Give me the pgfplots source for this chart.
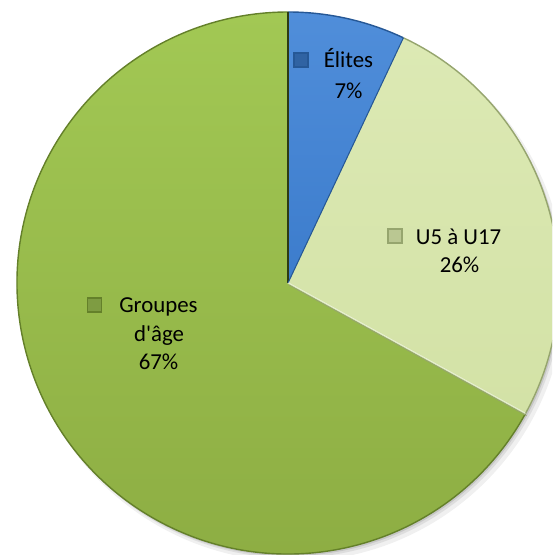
\documentclass[border=0pt]{standalone}
\usepackage{pgfplots}
\pgfplotsset{compat=1.18}
\usepackage{pgfplotstable}
\usepackage{fontspec}
\setmainfont{Carlito}

\definecolor{cBlue}{RGB}{60,124,204}
\definecolor{cBlueL}{RGB}{80,142,218}
\definecolor{cBlueD}{RGB}{38,88,150}
\definecolor{cLight}{RGB}{211,226,166}
\definecolor{cLightL}{RGB}{220,233,180}
\definecolor{cLightD}{RGB}{150,165,110}
\definecolor{cOlive}{RGB}{152,188,78}
\definecolor{cOliveL}{RGB}{162,200,84}
\definecolor{cOliveB}{RGB}{140,172,66}
\definecolor{cOliveD}{RGB}{100,128,42}

\pgfplotstableread{
label value
Elites 7
U5aU17 26
Groupes 67
}\piedata
\pgfplotstablegetelem{0}{value}\of\piedata\let\vA\pgfplotsretval
\pgfplotstablegetelem{1}{value}\of\piedata\let\vB\pgfplotsretval
\pgfplotstablegetelem{2}{value}\of\piedata\let\vC\pgfplotsretval
\pgfmathsetmacro\aA{90}
\pgfmathsetmacro\aB{90-3.6*\vA}
\pgfmathsetmacro\aC{\aB-3.6*\vB}
\pgfmathsetmacro\aD{\aC-3.6*\vC}
\def\R{5.42}
\pgfmathsetmacro\Rs{\R+0.03}

\begin{document}
\begin{tikzpicture}[font=\fontsize{13}{15}\selectfont]
\begin{axis}[
  x=1cm, y=1cm,
  xmin=-5.76, xmax=5.28,
  ymin=-5.44, ymax=5.66,
  hide axis,
  clip=true,
]
\fill[black, opacity=0.06] (axis cs:0.10,-0.12) circle[radius=\Rs];
\fill[black, opacity=0.08] (axis cs:0.06,-0.08) circle[radius=\R];
\fill[black, opacity=0.10] (axis cs:0.03,-0.04) circle[radius=\R];
\path[top color=cBlueL, bottom color=cBlue] (axis cs:0,0) -- (axis cs:{\R*cos(\aA)},{\R*sin(\aA)})
   arc[start angle=\aA, end angle=\aB, radius=\R] -- cycle;
\path[top color=cLightL, bottom color=cLight] (axis cs:0,0) -- (axis cs:{\R*cos(\aB)},{\R*sin(\aB)})
   arc[start angle=\aB, end angle=\aC, radius=\R] -- cycle;
\path[top color=cOliveL, bottom color=cOliveB] (axis cs:0,0) -- (axis cs:{\R*cos(\aC)},{\R*sin(\aC)})
   arc[start angle=\aC, end angle=\aD, radius=\R] -- cycle;
\draw[cBlueD, line width=0.8pt] (axis cs:{\R*cos(\aA)},{\R*sin(\aA)}) arc[start angle=\aA, end angle=\aB, radius=\R];
\draw[cLightD, line width=0.8pt] (axis cs:{\R*cos(\aB)},{\R*sin(\aB)}) arc[start angle=\aB, end angle=\aC, radius=\R];
\draw[cOliveD, line width=0.8pt] (axis cs:{\R*cos(\aC)},{\R*sin(\aC)}) arc[start angle=\aC, end angle=\aD, radius=\R];
\draw[black!55!cOliveD, line width=0.6pt] (axis cs:0,0) -- (axis cs:{\R*cos(\aA)},{\R*sin(\aA)});
\draw[cBlueD, line width=0.6pt] (axis cs:0,0) -- (axis cs:{\R*cos(\aB)},{\R*sin(\aB)});
\draw[white, opacity=0.6, line width=0.8pt] (axis cs:0,0) -- (axis cs:{\R*cos(\aC)},{\R*sin(\aC)});
\draw[cLightD, line width=0.5pt] (axis cs:0.02,-0.04) -- (axis cs:{\R*cos(\aC)+0.02},{\R*sin(\aC)-0.04});
\filldraw[draw=cBlueD, fill=cBlue!80!black, line width=0.7pt] (axis cs:0.12,4.32) rectangle (axis cs:0.40,4.60);
\node[anchor=base] at (axis cs:1.21,4.30) {Élites};
\node[anchor=base] at (axis cs:1.21,3.68) {\vA\%};
\filldraw[draw=cLightD, fill=cLight!88!black, line width=0.7pt] (axis cs:2.00,0.80) rectangle (axis cs:2.28,1.08);
\node[anchor=base] at (axis cs:3.41,0.76) {U5 à U17};
\node[anchor=base] at (axis cs:3.43,0.20) {\vB\%};
\filldraw[draw=cOliveD, fill=cOliveL!78!black, line width=0.7pt] (axis cs:-4.01,-0.58) rectangle (axis cs:-3.73,-0.30);
\node[anchor=base] at (axis cs:-2.59,-0.60) {Groupes};
\node[anchor=base] at (axis cs:-2.58,-1.18) {d\textquotesingle âge};
\node[anchor=base] at (axis cs:-2.59,-1.74) {\vC\%};
\coordinate (sw) at (rel axis cs:0,0);
\coordinate (ne) at (rel axis cs:1,1);
\end{axis}
\pgfresetboundingbox
\path (sw) rectangle (ne);
\end{tikzpicture}
\end{document}
